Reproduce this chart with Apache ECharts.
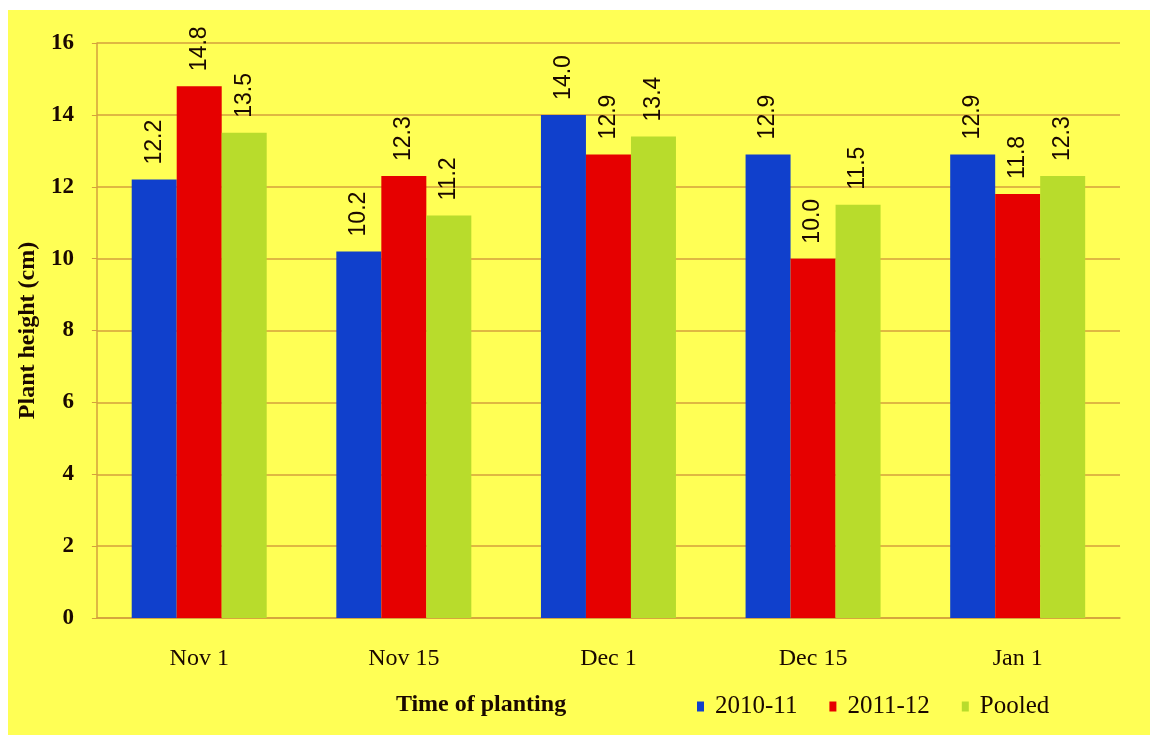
<!DOCTYPE html>
<html>
<head>
<meta charset="utf-8">
<script src="https://cdn.jsdelivr.net/npm/echarts@6/dist/echarts.min.js"></script>
<style>
html,body{margin:0;padding:0;background:#ffffff;}
#chart{position:absolute;left:8px;top:10px;width:1142px;height:725px;}
</style>
</head>
<body>
<div id="chart"></div>
<script>
const categories = ['Nov 1', 'Nov 15', 'Dec 1', 'Dec 15', 'Jan 1'];
const seriesNames = ['2010-11', '2011-12', 'Pooled'];
const values2010 = [12.2, 10.2, 14.0, 12.9, 12.9];
const values2011 = [14.8, 12.3, 12.9, 10.0, 11.8];
const valuesPooled = [13.5, 11.2, 13.4, 11.5, 12.3];
const yTicks = [0, 2, 4, 6, 8, 10, 12, 14, 16];

const colors = ['#1040CC', '#E60000', '#B8DC2C'];
const font = 'Liberation Serif';
const labelFont = '"Liberation Sans Narrow", "Liberation Sans", sans-serif';
const textColor = '#1a0800';
const lineColor = '#D4A03C';

const chart = echarts.init(document.getElementById('chart'));
function mk(name, data, color) {
  return {
    name: name, type: 'bar', data: data, barWidth: 45, barGap: '0%',
    itemStyle: { color: color },
    label: {
      show: true, position: 'top', rotate: 90, align: 'left', verticalAlign: 'middle',
      distance: 15, fontFamily: labelFont, fontSize: 23, color: textColor,
      formatter: p => p.value.toFixed(1)
    }
  };
}
chart.setOption({
  backgroundColor: '#FFFF55',
  animation: false,
  grid: { left: 87, right: 30, top: 33, bottom: 117 },
  xAxis: {
    type: 'category', data: categories,
    axisLine: { lineStyle: { color: lineColor, width: 1.5 } },
    axisTick: { show: false },
    axisLabel: { fontFamily: font, fontSize: 24, color: textColor, margin: 29 }
  },
  yAxis: {
    type: 'value', min: yTicks[0], max: yTicks[yTicks.length - 1], interval: 2,
    name: 'Plant height (cm)', nameLocation: 'middle', nameGap: 55,
    nameTextStyle: { fontFamily: font, fontSize: 24, fontWeight: 'bold', color: textColor },
    axisLine: { show: true, lineStyle: { color: lineColor, width: 1.5 } },
    axisTick: { show: true, length: 5, lineStyle: { color: lineColor } },
    splitLine: { lineStyle: { color: lineColor, width: 1.5 } },
    axisLabel: { fontFamily: font, fontSize: 23, fontWeight: 'bold', color: textColor, margin: 23 }
  },
  legend: {
    data: seriesNames, left: 684, top: 679, itemWidth: 7, itemHeight: 10, itemGap: 32,
    icon: 'rect',
    textStyle: { fontFamily: font, fontSize: 25, color: textColor, padding: [0, 0, 0, 6] }
  },
  graphic: [{
    type: 'text', x: 473, y: 695,
    style: { text: 'Time of planting', font: 'bold 24px "Liberation Serif"', fill: textColor,
             textAlign: 'center', textVerticalAlign: 'middle' }
  }],
  series: [
    mk(seriesNames[0], values2010, colors[0]),
    mk(seriesNames[1], values2011, colors[1]),
    mk(seriesNames[2], valuesPooled, colors[2])
  ]
});
</script>
</body>
</html>
